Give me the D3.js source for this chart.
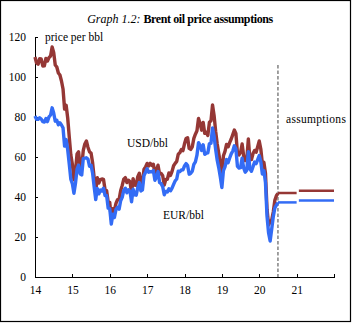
<!DOCTYPE html>
<html>
<head>
<meta charset="utf-8">
<script src="https://cdn.jsdelivr.net/npm/d3@7"></script>
<style>
  body { margin: 0; background: #fff; }
  svg { display: block; font-family: "Liberation Serif", "Times New Roman", serif; }
  .axis path, .axis line { stroke: #000; stroke-width: 1; shape-rendering: crispEdges; }
  .axis text { font-size: 11.5px; fill: #000; font-family: "Liberation Serif", serif; }
</style>
</head>
<body>
<div id="chart"></div>
<script>
// semi-monthly Brent prices, Jan 2014 .. mid 2020 (last point = start of assumptions)
var usdPrice = [
  110.0, 107.0, 106.4, 109.1, 109.0, 105.5, 105.6, 109.3, 108.0, 109.7, 110.5, 115.0, 112.3, 106.0, 105.0, 102.0, 101.0, 98.0, 94.0, 84.0, 85.9, 79.5, 70.1, 61.1,
  56.4, 48.6, 53.0, 61.5, 62.6, 54.7, 55.1, 63.3, 66.5, 68.0, 64.9, 62.6, 62.0, 57.1, 49.5, 43.0, 49.6, 47.0, 48.7, 49.0, 48.8, 43.6, 43.1, 37.5,
  37.3, 28.9, 34.2, 33.4, 36.8, 38.7, 38.7, 43.1, 45.8, 48.9, 49.7, 47.2, 48.4, 47.6, 42.1, 49.2, 46.0, 45.8, 50.2, 51.9, 46.9, 46.6, 53.9, 55.0,
  56.8, 55.5, 56.8, 55.8, 56.4, 51.8, 53.5, 55.9, 51.5, 51.8, 50.6, 46.0, 48.8, 48.9, 52.0, 50.8, 52.8, 55.6, 56.8, 57.8, 61.4, 62.2, 63.7, 63.2,
  66.6, 69.2, 69.6, 64.3, 63.8, 65.1, 69.3, 71.4, 73.1, 79.3, 76.8, 73.4, 77.3, 71.8, 72.4, 70.8, 77.4, 78.1, 86.0, 80.8, 72.9, 66.6, 61.7, 57.0,
  51.0, 60.6, 62.8, 66.3, 65.1, 67.2, 69.0, 71.2, 73.5, 71.8, 61.9, 61.0, 62.4, 66.5, 60.5, 58.2, 58.7, 69.0, 59.0, 58.7, 61.7, 63.3, 62.4, 65.2,
  68.0, 64.0, 56.6, 57.3, 51.9, 33.9, 26.0, 27.7, 28.5, 32.5, 38.3, 40.6, 41.8
];
var eurPrice = [
  80.5, 78.9, 78.8, 79.6, 79.0, 77.7, 77.5, 79.2, 77.7, 80.1, 81.0, 84.6, 82.0, 77.9, 78.4, 76.1, 77.1, 76.0, 74.6, 65.5, 68.7, 63.6, 56.5, 48.9,
  46.6, 41.9, 46.9, 53.9, 55.9, 51.6, 51.0, 59.2, 59.4, 59.6, 59.0, 55.4, 55.9, 51.9, 45.0, 38.7, 44.3, 41.6, 43.5, 43.0, 44.4, 40.7, 40.7, 34.4,
  34.2, 26.5, 31.4, 29.8, 33.8, 34.9, 33.9, 38.1, 39.8, 43.3, 44.4, 42.1, 43.6, 42.9, 37.6, 43.9, 41.1, 40.9, 44.8, 47.2, 43.0, 43.6, 50.8, 52.4,
  54.1, 52.4, 52.6, 52.6, 53.2, 48.4, 50.0, 52.7, 47.2, 46.7, 45.2, 41.1, 42.8, 42.5, 44.1, 43.1, 44.4, 46.3, 48.1, 49.0, 52.9, 52.7, 53.5, 53.6,
  55.5, 56.7, 55.7, 51.4, 51.9, 52.9, 56.3, 57.6, 60.9, 67.2, 65.6, 63.3, 66.1, 61.4, 61.9, 62.1, 66.7, 66.8, 74.5, 70.3, 63.9, 58.4, 54.6, 50.0,
  44.7, 53.2, 55.1, 58.7, 57.1, 59.5, 61.6, 63.0, 65.6, 64.1, 55.3, 54.5, 54.7, 59.4, 54.5, 52.4, 53.4, 62.7, 54.1, 52.9, 55.1, 57.5, 56.7, 58.7,
  60.7, 57.7, 51.5, 53.1, 47.2, 30.3, 22.0, 18.0, 24.0, 30.1, 34.5, 35.9, 37.2
];

// assumption periods (years since 2000) and flat price levels
var assumePeriods = [[20.5, 21.0], [21.06, 22.0]];
var usdAssume = [42.0, 43.1];
var eurAssume = [37.3, 38.3];

var startYear = 14;
var stepsPerYear = 24;
var cutoff = 20.5;
var xTicks = [14, 15, 16, 17, 18, 19, 20, 21, 22];
var yTicks = [0, 20, 40, 60, 80, 100, 120];

var red = "#953735";
var blue = "#336cf5";

var W = 352, H = 323;
var margin = { top: 37, right: 18, bottom: 46, left: 35 };
var width = 334 - margin.left;
var height = 277 - margin.top;

var svg = d3.select("#chart").append("svg")
  .attr("width", W)
  .attr("height", H);

// outer frame
svg.append("rect")
  .attr("x", 0.5).attr("y", 0.5)
  .attr("width", 350).attr("height", 321)
  .attr("fill", "none").attr("stroke", "#000").attr("stroke-width", 1.2);

// title
var title = svg.append("text")
  .attr("x", 180).attr("y", 23)
  .attr("text-anchor", "middle")
  .style("font-size", "12px");
title.append("tspan").style("font-style", "italic").text("Graph 1.2: ");
title.append("tspan").style("font-weight", "bold").style("letter-spacing", "-0.4px").text("Brent oil price assumptions");

var g = svg.append("g")
  .attr("transform", "translate(" + margin.left + "," + margin.top + ")");

var x = d3.scaleLinear().domain([14, 22]).range([0, width]);
var y = d3.scaleLinear().domain([0, 120]).range([height, 0]);

var xAxis = d3.axisBottom(x)
  .tickValues(xTicks)
  .tickSizeInner(-3).tickSizeOuter(0)
  .tickPadding(9)
  .tickFormat(function(d) { return d < 22 ? d : ""; });

var yAxis = d3.axisLeft(y)
  .tickValues(yTicks)
  .tickSizeInner(-3).tickSizeOuter(0)
  .tickPadding(9);

g.append("g")
  .attr("class", "axis")
  .attr("transform", "translate(0," + height + ")")
  .call(xAxis);

g.append("g")
  .attr("class", "axis")
  .call(yAxis);

// cut-off between history and assumptions
g.append("line")
  .attr("x1", x(cutoff)).attr("x2", x(cutoff))
  .attr("y1", y(106)).attr("y2", height)
  .attr("stroke", "#8a8a8a")
  .attr("stroke-width", 1.6)
  .attr("stroke-dasharray", "3.5,2");

var line = d3.line()
  .x(function(d, i) { return x(startYear + i / stepsPerYear); })
  .y(function(d) { return y(d); });

g.append("path")
  .datum(usdPrice)
  .attr("d", line)
  .attr("fill", "none")
  .attr("stroke", red)
  .attr("stroke-width", 3.4)
  .attr("stroke-linejoin", "round");

g.append("path")
  .datum(eurPrice)
  .attr("d", line)
  .attr("fill", "none")
  .attr("stroke", blue)
  .attr("stroke-width", 3.4)
  .attr("stroke-linejoin", "round");

// flat assumption segments
function drawAssume(values, color) {
  g.selectAll(null)
    .data(values)
    .enter().append("line")
    .attr("x1", function(d, i) { return x(assumePeriods[i][0]); })
    .attr("x2", function(d, i) { return x(assumePeriods[i][1]); })
    .attr("y1", function(d) { return y(d); })
    .attr("y2", function(d) { return y(d); })
    .attr("stroke", color)
    .attr("stroke-width", 2.5);
}
drawAssume(usdAssume, red);
drawAssume(eurAssume, blue);

// labels
function label(txt, px, py, spacing) {
  svg.append("text")
    .attr("x", px).attr("y", py)
    .style("font-size", "11.5px")
    .style("letter-spacing", spacing || "0px")
    .text(txt);
}
label("price per bbl", 45, 41);
label("USD/bbl", 127, 147);
label("EUR/bbl", 163, 219);
label("assumptions", 286, 123, "0.3px");
</script>
</body>
</html>
